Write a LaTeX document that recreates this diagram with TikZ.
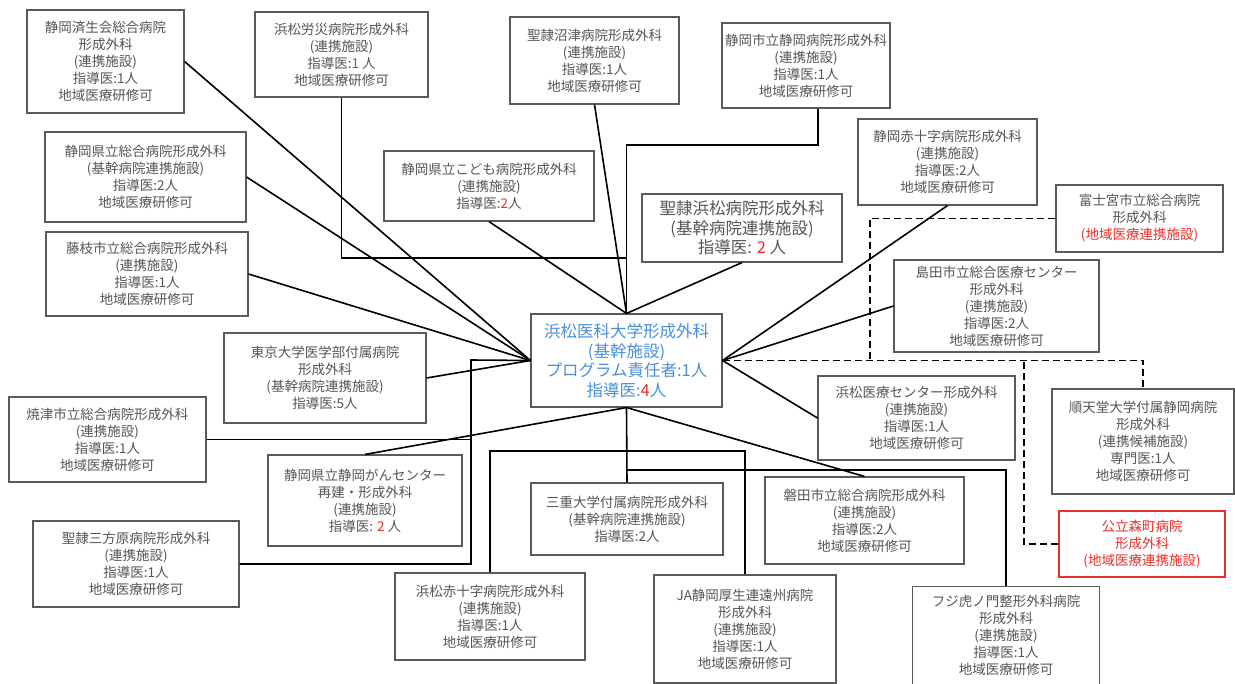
\documentclass[tikz,border=0pt]{standalone}
\usepackage{fontspec}
\newfontfamily\jp{Noto Sans CJK JP}
\definecolor{tg}{HTML}{555555}
\definecolor{bg}{HTML}{5A5A5A}
\definecolor{rd}{HTML}{E8302A}
\definecolor{bl}{HTML}{4A90D9}
\tikzset{
 box/.style={draw=bg, line width=1.1pt, align=center, inner sep=0pt, text=tg, font=\jp\fontsize{13.5}{17}\selectfont},
 bigbox/.style={box, font=\jp\fontsize{16.5}{19.5}\selectfont},
 boxline/.style={draw=bg, line width=1.1pt},
 link/.style={line width=1.6pt, black},
 dlink/.style={link, dash pattern=on 7pt off 4pt},
}
\begin{document}
\begin{tikzpicture}[x=1pt,y=-1pt]
\fill[white] (0,0) rectangle (1235,684);
\useasboundingbox (0,0) rectangle (1235,684);
% nodes
\node[box, minimum width=157pt, minimum height=103pt] (jsk) at (105.5,61.5) {静岡済生会総合病院\\形成外科\\(連携施設)\\指導医:1人\\地域医療研修可};
\node[box, minimum width=173pt, minimum height=85pt] (rosai) at (341.5,54.5) {浜松労災病院形成外科\\(連携施設)\\指導医:\textcolor{rd}{1} 人\\地域医療研修可};
\node[box, minimum width=201pt, minimum height=90pt] (kenritsu) at (145.5,177) {静岡県立総合病院形成外科\\(基幹病院連携施設)\\指導医:2人\\地域医療研修可};
\node[box, minimum width=202pt, minimum height=84pt] (fujieda) at (147,274) {藤枝市立総合病院形成外科\\(連携施設)\\指導医:1人\\地域医療研修可};
\node[box, minimum width=169pt, minimum height=87pt] (numazu) at (594.5,60.5) {聖隷沼津病院形成外科\\(連携施設)\\指導医:1人\\地域医療研修可};
\node[box, minimum width=168pt, minimum height=85pt] (shizushi) at (806,65.5) {静岡市立静岡病院形成外科\\(連携施設)\\指導医:1人\\地域医療研修可};
\node[box, minimum width=210pt, minimum height=70pt] (kodomo) at (489,186) {静岡県立こども病院形成外科\\(連携施設)\\指導医:\textcolor{rd}{2}人};
\node[bigbox, minimum width=200pt, minimum height=68pt] (seireihama) at (742,228) {聖隷浜松病院形成外科\\(基幹病院連携施設)\\指導医: \textcolor{rd}{2} 人};
\node[box, minimum width=179pt, minimum height=86pt] (sekijuji) at (947.5,162) {静岡赤十字病院形成外科\\(連携施設)\\指導医:2人\\地域医療研修可};
\node[box, minimum width=167pt, minimum height=67pt] (fujinomiya) at (1139.5,218.5) {富士宮市立総合病院\\形成外科\\\textcolor{rd}{(地域医療連携施設)}};
\node[box, minimum width=205pt, minimum height=92pt] (shimada) at (996.5,306) {島田市立総合医療センター\\形成外科\\(連携施設)\\指導医:2人\\地域医療研修可};
\node[bigbox, text=bl, minimum width=191pt, minimum height=93pt] (center) at (626.5,360.5) {浜松医科大学形成外科\\(基幹施設)\\プログラム責任者:1人\\指導医:\textcolor{rd}{4}人};
\node[box, minimum width=202pt, minimum height=90pt] (tokyo) at (325,378) {東京大学医学部付属病院\\形成外科\\(基幹病院連携施設)\\指導医:5人};
\node[box, minimum width=197pt, minimum height=85pt] (yaizu) at (107.5,439.5) {焼津市立総合病院形成外科\\(連携施設)\\指導医:1人\\地域医療研修可};
\node[box, minimum width=194pt, minimum height=91pt] (gan) at (365,500.5) {静岡県立静岡がんセンター\\再建・形成外科\\(連携施設)\\指導医: \textcolor{rd}{2} 人};
\node[box, minimum width=206pt, minimum height=86pt] (mikatahara) at (136,564) {聖隷三方原病院形成外科\\(連携施設)\\指導医:1人\\地域医療研修可};
\node[box, minimum width=190pt, minimum height=87pt] (hamasekijuji) at (490,616.5) {浜松赤十字病院形成外科\\(連携施設)\\指導医:1人\\地域医療研修可};
\node[box, minimum width=192pt, minimum height=72pt] (mie) at (627,519) {三重大学付属病院形成外科\\(基幹病院連携施設)\\指導医:2人};
\node[box, minimum width=182pt, minimum height=108pt] (ja) at (745,629) {JA静岡厚生連遠州病院\\形成外科\\(連携施設)\\指導医:1人\\地域医療研修可};
\node[box, minimum width=199pt, minimum height=87pt] (iwata) at (864.5,520.5) {磐田市立総合病院形成外科\\(連携施設)\\指導医:2人\\地域医療研修可};
\node[box, minimum width=197pt, minimum height=84pt] (iryo) at (916.5,418) {浜松医療センター形成外科\\(連携施設)\\指導医:1人\\地域医療研修可};
\node[box, minimum width=182pt, minimum height=105pt] (juntendo) at (1143,441.5) {順天堂大学付属静岡病院\\形成外科\\(連携候補施設)\\専門医:1人\\地域医療研修可};
\node[box, draw=rd, text=rd, minimum width=166pt, minimum height=66pt] (morimachi) at (1142,544) {公立森町病院\\形成外科\\(地域医療連携施設)};
\node[box, draw=none, minimum width=186pt, minimum height=96pt] (fuji) at (1006,635) {フジ虎ノ門整形外科病院\\形成外科\\(連携施設)\\指導医:1人\\地域医療研修可};
\draw[boxline] ([yshift=-12pt]fuji.south west) -- (fuji.north west) -- (fuji.north east) -- ([yshift=-12pt]fuji.south east);
% junction coordinates
\coordinate (h1) at (626.5,145);
\coordinate (h2) at (626.5,258);
\coordinate (h3) at (626.5,451);
\coordinate (h4) at (626.5,470);
\coordinate (v1) at (471,360);
\coordinate (d1) at (870,360);
\coordinate (d2) at (1024,360);
% solid links
\draw[link] (numazu.south) -- (center.north);
\draw[link] ([xshift=12pt]shizushi.south) |- (h1) -- (center.north);
\draw[link] (rosai.south) |- (h2);
\draw[link] (kodomo.south) -- (center.north);
\draw[link] (seireihama.south) -- (center.north);
\draw[link] (sekijuji.south) -- (center.east);
\draw[link] (jsk.east) -- (center.west);
\draw[link] (kenritsu.east) -- (center.west);
\draw[link] (fujieda.east) -- (center.west);
\draw[link] (tokyo.east) -- (center.west);
\draw[link] (mikatahara.east) -| (v1) -- (center.west);
\draw[link] (yaizu.east) -- (yaizu.east -| v1);
\draw[link] (gan.north) -- (center.south);
\draw[link] (center.south) -- (mie.north);
\draw[link] (hamasekijuji.north) |- (h3) -| (ja.north);
\draw[link] (fuji.north) |- (h4);
\draw[link] (iwata.north) -- (center.south);
\draw[link] (iryo.west) -- (center.east);
\draw[link] (shimada.west) -- (center.east);
% dashed links
\draw[dlink] (center.east) -| (juntendo.north);
\draw[dlink] (fujinomiya.west) -| (d1);
\draw[dlink] (morimachi.west) -| (d2);
\end{tikzpicture}
\end{document}
